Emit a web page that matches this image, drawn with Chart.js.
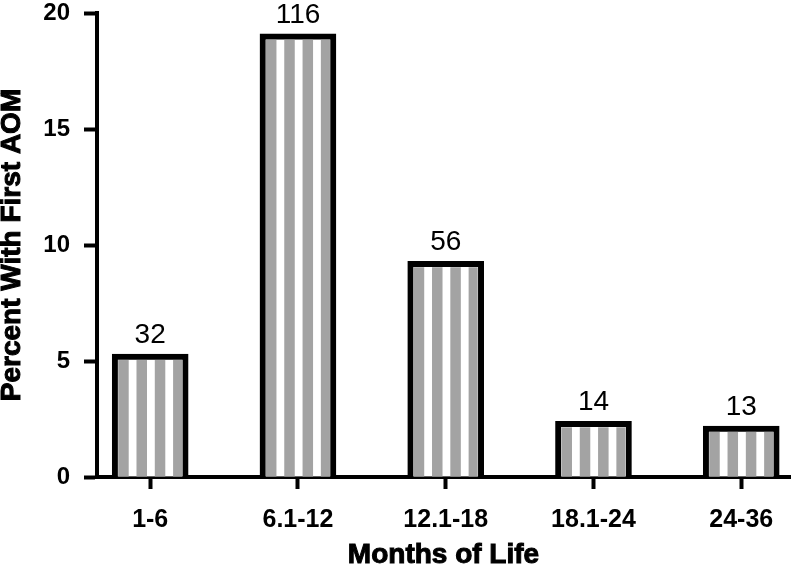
<!DOCTYPE html>
<html>
<head>
<meta charset="utf-8">
<script src="https://cdn.jsdelivr.net/npm/chart.js@4.4.0/dist/chart.umd.min.js"></script>
<style>
html, body { margin: 0; padding: 0; background: #fff; }
#wrap { width: 798px; height: 567px; }
</style>
</head>
<body>
<div id="wrap"><canvas id="aomChart"></canvas></div>
<script>
const categories = ['1-6', '6.1-12', '12.1-18', '18.1-24', '24-36'];
const percents = [5.3, 19.1, 9.3, 2.4, 2.2];
const counts = [32, 116, 56, 14, 13];
const xTitle = 'Months of Life';
const yTitle = 'Percent With First AOM';

const FONT = "'Liberation Sans', Arial, sans-serif";
const BORDER = 6;

// vertical grey stripes inside each bar
const stripes = {
  id: 'stripes',
  afterDatasetsDraw(chart) {
    const ctx = chart.ctx;
    const meta = chart.getDatasetMeta(0);
    ctx.save();
    ctx.fillStyle = '#a3a3a3';
    meta.data.forEach(bar => {
      const p = bar.getProps(['x', 'y', 'base', 'width'], true);
      const left = p.x - p.width / 2 + BORDER;
      const right = p.x + p.width / 2 - BORDER;
      const top = p.y + BORDER;
      for (let sx = left; sx < right; sx += 18.3) {
        ctx.fillRect(sx, top, Math.min(10.5, right - sx), p.base - top);
      }
    });
    ctx.restore();
  }
};

// counts written above the bars
const countLabels = {
  id: 'countLabels',
  afterDatasetsDraw(chart) {
    const ctx = chart.ctx;
    const meta = chart.getDatasetMeta(0);
    ctx.save();
    ctx.fillStyle = '#000';
    ctx.font = '28px ' + FONT;
    ctx.textAlign = 'center';
    ctx.textBaseline = 'alphabetic';
    meta.data.forEach((bar, i) => {
      const p = bar.getProps(['x', 'y'], true);
      ctx.fillText(String(counts[i]), p.x, p.y - 11);
    });
    ctx.restore();
  }
};

// axis titles (slightly heavier than plain bold, like the original)
const axisTitles = {
  id: 'axisTitles',
  afterDraw(chart) {
    const ctx = chart.ctx;
    const area = chart.chartArea;
    ctx.save();
    ctx.fillStyle = '#000';
    ctx.strokeStyle = '#000';
    ctx.lineWidth = 1;
    ctx.font = 'bold 28px ' + FONT;
    ctx.textAlign = 'center';
    ctx.textBaseline = 'middle';
    const cx = (area.left + area.right) / 2;
    ctx.fillText(xTitle, cx, 555);
    ctx.strokeText(xTitle, cx, 555);
    ctx.translate(12, (area.top + area.bottom) / 2);
    ctx.rotate(-Math.PI / 2);
    ctx.fillText(yTitle, 0, 0);
    ctx.strokeText(yTitle, 0, 0);
    ctx.restore();
  }
};

const ctx = document.getElementById('aomChart').getContext('2d');
const aomChart = new Chart(ctx, {
  type: 'bar',
  data: {
    datasets: [{
      data: percents.map((v, i) => ({ x: i, y: v })),
      backgroundColor: '#fff',
      borderColor: '#000',
      borderWidth: BORDER,
      barThickness: 76
    }]
  },
  options: {
    responsive: true,
    maintainAspectRatio: false,
    animation: false,
    layout: { padding: { top: 13, right: 8, left: 0, bottom: 0 } },
    plugins: { legend: { display: false }, tooltip: { enabled: false } },
    scales: {
      x: {
        type: 'linear',
        min: -0.36,
        max: 4.33,
        offset: false,
        z: 1,
        ticks: {
          stepSize: 1,
          includeBounds: false,
          autoSkip: false,
          maxRotation: 0,
          padding: 16,
          color: '#000',
          font: { family: FONT, size: 25, weight: 'bold' },
          callback: v => categories[v] ?? ''
        },
        grid: { offset: false, drawOnChartArea: false, tickLength: 12, tickWidth: 4, tickColor: '#000' },
        border: { width: 4, color: '#000' },
        afterFit: s => { s.height = 90; }
      },
      y: {
        min: 0,
        max: 20,
        ticks: {
          stepSize: 5,
          padding: 14,
          color: '#000',
          font: { family: FONT, size: 24, weight: 'bold', lineHeight: 1 }
        },
        grid: { drawOnChartArea: false, tickLength: 13, tickWidth: 4, tickColor: '#000' },
        border: { width: 4, color: '#000' },
        afterFit: s => {
          s.width = 97;
          s.paddingTop = 0;
          s.paddingBottom = 0;
        }
      }
    }
  },
  plugins: [stripes, countLabels, axisTitles]
});
</script>
</body>
</html>
